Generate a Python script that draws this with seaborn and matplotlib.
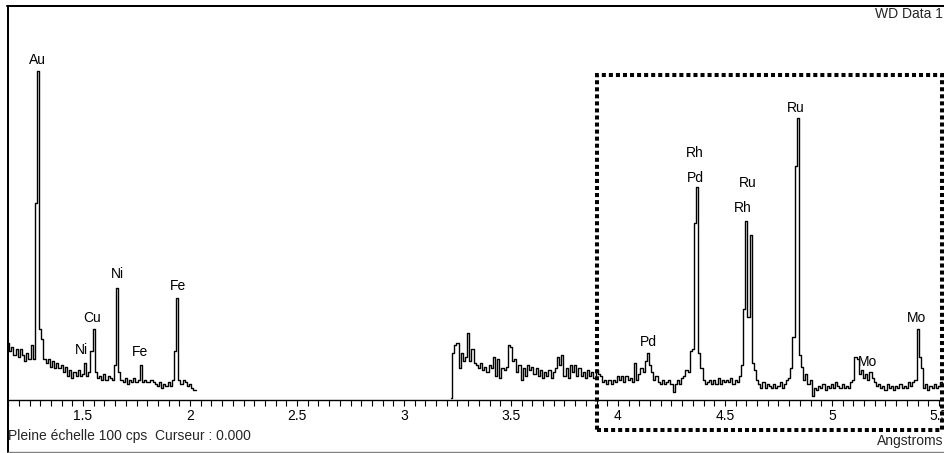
import numpy as np
import pandas as pd
import seaborn as sns
import matplotlib.pyplot as plt
from matplotlib.ticker import MultipleLocator, FuncFormatter
from matplotlib.patches import Rectangle
from matplotlib.lines import Line2D

# scan 1: 1.15 .. 2.03 A, scan 2: 3.22 .. 5.52 A, both 0.01 A steps
seg1_start = 1.15
seg2_start = 3.22
step = 0.01

seg1_counts = [
    14.5, 12.5, 13.5, 11.5, 13, 11, 13, 11.5, 10, 12,
    10.5, 14, 10.5, 50, 83.5, 18, 15.5, 10.5, 9.5, 10.5,
    8.5, 10, 8, 9.5, 8, 9, 7, 8.5, 6, 7.5,
    5.5, 7, 6, 7.5, 6, 6.5, 9.5, 6, 7, 12.5,
    18, 7, 5.5, 6, 5, 6.5, 5, 6, 5.5, 5,
    9, 28.5, 7, 5, 4.5, 5.5, 4, 5, 4.5, 5.5,
    4.5, 5, 9, 4.5, 5, 4.5, 4.5, 5, 4.5, 4,
    3.5, 4.5, 3, 4, 3.5, 4.5, 3.5, 5, 12.5, 26,
    5, 4, 5, 4.5, 3.5, 4, 3, 2.5, 2.5,
]

seg2_counts = [
    0.5, 12, 14, 14.5, 8, 12, 10, 11, 17, 10,
    13, 9.5, 9, 8, 9.5, 7.5, 8.5, 7, 9, 8,
    11, 6, 10.5, 5.5, 8, 7.5, 8.5, 14, 13.5, 10,
    10.5, 7, 9, 5, 8, 6, 9, 7.5, 8.5, 6.5,
    8, 6, 7.5, 5.5, 7, 6, 7.5, 5.5, 7, 8,
    11, 9, 11.5, 6, 8, 5.5, 9, 7, 9, 6,
    8, 6, 7, 5.5, 7.5, 6, 7, 5.5, 7.5, 6.5,
    6, 4.5, 5, 4, 5, 4, 5, 4.5, 6, 5,
    6, 4.5, 6, 5, 5.5, 4.5, 9.5, 5, 6.5, 8,
    7, 10, 12, 9, 7, 5, 6, 4.5, 4, 5,
    4, 4.5, 5, 4, 2, 4, 5, 4, 5.5, 6,
    7.5, 7, 12.5, 13, 45, 54, 12, 8, 5, 4,
    4.5, 5, 4, 5, 4, 5.5, 4, 5, 4.5, 5,
    4.5, 5.5, 4, 5, 4.5, 6, 9, 23, 45.5, 21,
    42, 9.5, 7.5, 5, 4, 3, 4.5, 3, 4, 3.5,
    3, 4, 3, 3.5, 4.5, 3, 4, 5, 5.5, 8,
    16, 59.5, 71.5, 11.5, 8.5, 5, 6.5, 4, 5, 1,
    3, 2.5, 3.5, 3, 4, 2.5, 3.5, 3, 4, 3,
    4.5, 3.5, 3, 4, 3, 3.5, 3, 4.5, 5, 11,
    10.5, 6.5, 7.5, 5.5, 6.5, 5, 7, 5.5, 4.5, 3.5,
    4, 3, 3.5, 2.5, 4, 3, 3.5, 2.5, 3.5, 3,
    4, 3, 3.5, 3, 4.5, 3.5, 4.5, 5, 18, 11,
    8, 3, 4, 2.5, 3.5, 3, 4, 3, 3.5, 4.5, 4,
]

label_text = ['Au', 'Ni', 'Cu', 'Ni', 'Fe', 'Fe', 'Pd', 'Rh', 'Pd',
              'Ru', 'Rh', 'Ru', 'Mo', 'Mo']
label_x = [1.285, 1.495, 1.542, 1.659, 1.766, 1.944, 4.140, 4.360, 4.360,
           4.607, 4.584, 4.832, 5.168, 5.397]
label_y = [86.3, 12.7, 20.8, 32.0, 12.2, 28.9, 14.7, 62.7, 56.3,
           55.1, 48.7, 74.1, 9.6, 20.8]


def scan(start, counts, name):
    wl = np.round(start + step * np.arange(len(counts)), 3)
    return pd.DataFrame({'wavelength': wl, 'counts': counts, 'segment': name})


df = pd.concat([scan(seg1_start, seg1_counts, 'a'),
                scan(seg2_start, seg2_counts, 'b')], ignore_index=True)

sns.set_style('white')
plt.rcParams['font.family'] = ['Liberation Sans', 'DejaVu Sans']

W, H = 945, 453
FS = 10


def fx(px):
    return px / W


def fy(py):
    return 1 - py / H


fig = plt.figure(figsize=(W / 100, H / 100), dpi=100)
ax = fig.add_axes([fx(8), fy(400), fx(944) - fx(8), fy(6) - fy(400)])
ax.patch.set_alpha(0)

sns.lineplot(data=df, x='wavelength', y='counts', units='segment',
             estimator=None, color='black', lw=1.0, drawstyle='steps-mid',
             legend=False, ax=ax)

ax.set_xlim(1.1495, 5.5234)
ax.set_ylim(0, 100)
ax.set_xlabel('')
ax.set_ylabel('')
ax.set_yticks([])
for s in ('left', 'right', 'top'):
    ax.spines[s].set_visible(False)
ax.spines['bottom'].set_linewidth(1.0)
ax.spines['bottom'].set_color('black')

ax.xaxis.set_major_locator(MultipleLocator(0.5))
ax.xaxis.set_minor_locator(MultipleLocator(0.05))
ax.xaxis.set_major_formatter(FuncFormatter(lambda v, p: f'{v:g}'))
ax.tick_params(axis='x', which='both', direction='out', length=4.3,
               width=0.8, color='black', labelsize=FS, pad=2.5,
               labelcolor='black', bottom=True)

for (t, x, y) in zip(label_text, label_x, label_y):
    ax.text(x, y, t, ha='center', va='center', fontsize=FS, color='black')

# outer frame
frame = dict(transform=fig.transFigure, color='black', lw=1.44)
fig.add_artist(Line2D([fx(8), fx(8)], [fy(5.5), fy(452)], **frame))
fig.add_artist(Line2D([fx(7.3), 1.0], [fy(6), fy(6)], **frame))
fig.add_artist(Line2D([fx(8), 1.0], [fy(452), fy(452)],
                      transform=fig.transFigure, color='#808080', lw=1.0))

# dotted region of interest
fig.add_artist(Rectangle((fx(597), fy(430)), fx(942) - fx(597),
                         fy(75) - fy(430), transform=fig.transFigure,
                         fill=False, ec='black', lw=2.9,
                         ls=(0, (1, 0.75)), capstyle='butt',
                         joinstyle='miter', zorder=5))

fig.text(fx(8), fy(440), 'Pleine échelle 100 cps  Curseur : 0.000',
         ha='left', va='baseline', fontsize=FS)
fig.text(fx(943), fy(445), 'Angstroms', ha='right', va='baseline',
         fontsize=FS)
fig.text(fx(943), fy(18), 'WD Data 1', ha='right', va='baseline',
         fontsize=FS)

fig.savefig('out.png', dpi=100)
